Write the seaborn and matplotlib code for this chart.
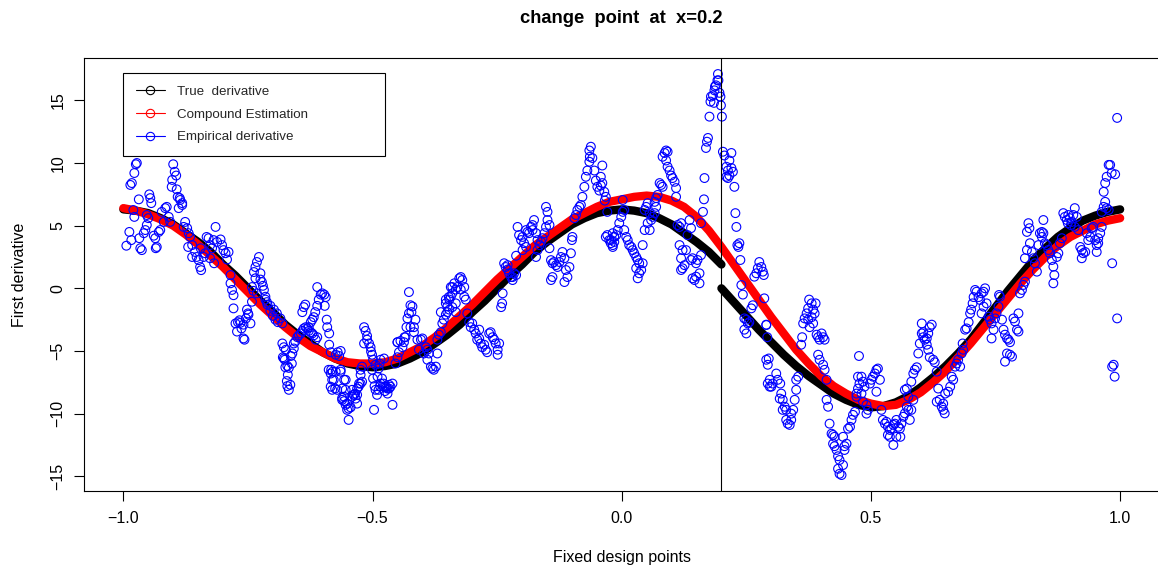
import sys
import pandas as pd
import matplotlib
matplotlib.use("Agg")
import matplotlib.pyplot as plt
import seaborn as sns
from matplotlib.lines import Line2D

sns.set_theme(style="ticks")
plt.rcParams['font.family'] = ['Liberation Sans', 'DejaVu Sans']
plt.rcParams['axes.unicode_minus'] = True

# ---------------- data ----------------
title_text = "change  point  at  x=0.2"
x_label = "Fixed design points"
y_label = "First derivative"
legend_labels = ["True  derivative", "Compound Estimation", "Empirical derivative"]
change_point = 0.2

xtick_vals = [-1.0, -0.5, 0.0, 0.5, 1.0]
xtick_labels = ["\u22121.0", "\u22120.5", "0.0", "0.5", "1.0"]
ytick_vals = [-15, -10, -5, 0, 5, 10, 15]
ytick_labels = ["\u221215", "\u221210", "\u22125", "0", "5", "10", "15"]

# true derivative, left of change point
true_left_x = [-1.0, -0.975, -0.95, -0.925, -0.9, -0.875, -0.85, -0.825, -0.8, -0.775,
               -0.75, -0.725, -0.7, -0.675, -0.65, -0.625, -0.6, -0.575, -0.55, -0.525,
               -0.5, -0.475, -0.45, -0.425, -0.4, -0.375, -0.35, -0.325, -0.3, -0.275,
               -0.25, -0.225, -0.2, -0.175, -0.15, -0.125, -0.1, -0.075, -0.05, -0.025,
               0.0, 0.025, 0.05, 0.075, 0.1, 0.125, 0.15, 0.175, 0.2]
true_left_y = [6.3, 6.2, 6.0, 5.6, 5.1, 4.4, 3.7, 2.9, 1.9, 1.0,
               0.0, -1.0, -1.9, -2.9, -3.7, -4.4, -5.1, -5.6, -6.0, -6.2,
               -6.3, -6.2, -6.0, -5.6, -5.1, -4.4, -3.7, -2.9, -1.9, -1.0,
               0.0, 1.0, 1.9, 2.9, 3.7, 4.4, 5.1, 5.6, 6.0, 6.2,
               6.3, 6.2, 6.0, 5.6, 5.1, 4.4, 3.7, 2.9, 1.9]
# true derivative, right of change point
true_right_x = [0.2, 0.225, 0.25, 0.275, 0.3, 0.325, 0.35, 0.375, 0.4, 0.425,
                0.45, 0.475, 0.5, 0.525, 0.55, 0.575, 0.6, 0.625, 0.65, 0.675,
                0.7, 0.725, 0.75, 0.775, 0.8, 0.825, 0.85, 0.875, 0.9, 0.925,
                0.95, 0.975, 1.0]
true_right_y = [0.0, -1.1, -2.2, -3.3, -4.3, -5.3, -6.2, -7.0, -7.7, -8.4,
                -8.9, -9.3, -9.5, -9.4, -9.1, -8.6, -7.9, -7.1, -6.2, -5.2,
                -4.1, -2.8, -1.5, -0.2, 1.0, 2.2, 3.2, 4.1, 4.8, 5.4,
                5.8, 6.1, 6.3]

# compound estimation
comp_x = [-1.0, -0.975, -0.95, -0.925, -0.9, -0.875, -0.85, -0.825, -0.8, -0.775,
          -0.75, -0.725, -0.7, -0.675, -0.65, -0.625, -0.6, -0.575, -0.55, -0.525,
          -0.5, -0.475, -0.45, -0.425, -0.4, -0.375, -0.35, -0.325, -0.3, -0.275,
          -0.25, -0.225, -0.2, -0.175, -0.15, -0.125, -0.1, -0.075, -0.05, -0.025,
          0.0, 0.025, 0.05, 0.075, 0.1, 0.125, 0.15, 0.175, 0.2, 0.225,
          0.25, 0.275, 0.3, 0.325, 0.35, 0.375, 0.4, 0.425, 0.45, 0.475,
          0.5, 0.525, 0.55, 0.575, 0.6, 0.625, 0.65, 0.675, 0.7, 0.725,
          0.75, 0.775, 0.8, 0.825, 0.85, 0.875, 0.9, 0.925, 0.95, 0.975, 1.0]
comp_y = [6.4, 6.2, 5.9, 5.5, 5.0, 4.3, 3.5, 2.6, 1.7, 0.7,
          -0.3, -1.3, -2.2, -3.1, -3.9, -4.6, -5.1, -5.6, -5.9, -6.0,
          -6.0, -5.9, -5.6, -5.1, -4.6, -3.9, -3.1, -2.2, -1.3, -0.3,
          0.7, 1.6, 2.5, 3.4, 4.1, 4.8, 5.5, 6.0, 6.5, 6.9,
          7.1, 7.3, 7.4, 7.3, 7.0, 6.5, 5.7, 4.6, 3.3, 1.9,
          0.5, -0.9, -2.3, -3.6, -4.9, -6.0, -7.0, -7.8, -8.4, -8.9,
          -9.2, -9.4, -9.3, -8.9, -8.3, -7.5, -6.6, -5.5, -4.4, -3.2,
          -2.0, -0.8, 0.4, 1.5, 2.5, 3.4, 4.1, 4.6, 5.1, 5.4, 5.6]

# empirical derivative (one line per cluster of points)
emp_x = [
    -0.973, -0.975, -0.978, -0.983, -0.986, -0.969, -0.980, -0.978, -0.953, -0.950, -0.988, -0.984, -0.994, -0.968, -0.966, -0.963, -0.959, -0.956, -0.953, -0.946, -0.944, -0.948,
    -0.939, -0.936, -0.933, -0.935, -0.929, -0.926, -0.923, -0.919, -0.916, -0.913, -0.909, -0.906,
    -0.900, -0.897, -0.894, -0.902, -0.903, -0.893, -0.891, -0.887, -0.886, -0.882, -0.889, -0.882,
    -0.876, -0.879, -0.872, -0.869, -0.866, -0.862, -0.870, -0.862, -0.856, -0.849, -0.846, -0.844, -0.853, -0.839, -0.833, -0.829, -0.826, -0.822, -0.819, -0.815, -0.812, -0.805, -0.802, -0.799, -0.795, -0.789, -0.792, -0.785, -0.782, -0.779, -0.779, -0.785, -0.845, -0.836, -0.826, -0.818,
    -0.775, -0.772, -0.767, -0.763, -0.759, -0.754, -0.750, -0.752, -0.745, -0.759, -0.757, -0.770, -0.765, -0.749, -0.742,
    -0.728, -0.732, -0.735, -0.738, -0.735, -0.725, -0.722, -0.742, -0.718, -0.715, -0.712, -0.705, -0.698, -0.692, -0.685, -0.681, -0.739, -0.732, -0.725, -0.720, -0.715, -0.711, -0.705, -0.700, -0.695, -0.690,
    -0.681, -0.678, -0.680, -0.676, -0.671, -0.668, -0.671, -0.668, -0.664, -0.661, -0.658, -0.658, -0.678, -0.675, -0.670, -0.665, -0.662, -0.674, -0.672,
    -0.655, -0.651, -0.648, -0.644, -0.641, -0.638, -0.634, -0.631, -0.628, -0.624, -0.621, -0.618, -0.614, -0.611, -0.641, -0.638, -0.635,
    -0.628, -0.624, -0.621, -0.618, -0.615, -0.611, -0.608, -0.604, -0.601, -0.597, -0.594, -0.596, -0.611, -0.592, -0.591, -0.587, -0.587, -0.584,
    -0.583, -0.580, -0.578, -0.575, -0.571, -0.574, -0.570, -0.567, -0.564, -0.564, -0.557, -0.554, -0.561, -0.557, -0.551, -0.548, -0.544, -0.548, -0.541, -0.537, -0.534, -0.531, -0.527, -0.524, -0.531, -0.588, -0.584, -0.581, -0.584, -0.581, -0.574, -0.564, -0.554, -0.561, -0.557, -0.561, -0.554, -0.551,
    -0.541, -0.538, -0.535, -0.531, -0.528, -0.524, -0.521, -0.521, -0.524,
    -0.517, -0.514, -0.511, -0.511, -0.507, -0.504, -0.503, -0.501, -0.499, -0.517, -0.501, -0.499, -0.496, -0.494, -0.491, -0.488, -0.485, -0.497, -0.490, -0.488, -0.486, -0.494,
    -0.484, -0.477, -0.478, -0.475, -0.472, -0.470, -0.467, -0.474, -0.470, -0.467, -0.464, -0.460, -0.460, -0.450, -0.484, -0.481, -0.477,
    -0.454, -0.450, -0.447, -0.450, -0.444, -0.440, -0.437, -0.436, -0.434, -0.432, -0.430, -0.427, -0.424, -0.422, -0.420, -0.427, -0.424, -0.417, -0.414, -0.417, -0.410, -0.407, -0.403, -0.400, -0.397, -0.393, -0.390, -0.387, -0.390, -0.383, -0.380, -0.377, -0.373, -0.370, -0.370, -0.367, -0.363, -0.360, -0.357, -0.353, -0.363, -0.353, -0.350, -0.347, -0.343,
    -0.353, -0.350, -0.346, -0.343, -0.340, -0.340, -0.336, -0.333, -0.330, -0.326, -0.323, -0.320, -0.316, -0.323, -0.316, -0.313, -0.333, -0.340, -0.333, -0.346,
    -0.310, -0.306, -0.303, -0.300, -0.296, -0.293, -0.290, -0.286, -0.283, -0.280, -0.276, -0.273, -0.270, -0.266, -0.263, -0.259, -0.256, -0.253, -0.249, -0.246, -0.249, -0.286,
    -0.242, -0.240, -0.239, -0.236, -0.233, -0.229, -0.226, -0.222, -0.219, -0.216, -0.212, -0.229, -0.219, -0.212,
    -0.209, -0.206, -0.202, -0.199, -0.196, -0.192, -0.189, -0.186, -0.182, -0.179, -0.176, -0.179, -0.172, -0.169, -0.165, -0.162, -0.159, -0.155, -0.152, -0.152, -0.149, -0.149, -0.145, -0.199, -0.192, -0.172, -0.169,
    -0.145, -0.142, -0.139, -0.136, -0.132, -0.129, -0.125, -0.122, -0.119, -0.115, -0.112, -0.109, -0.105, -0.139, -0.142, -0.102, -0.115, -0.099, -0.100,
    -0.095, -0.092, -0.089, -0.085, -0.082, -0.079, -0.075, -0.072, -0.069, -0.065, -0.064, -0.062, -0.065, -0.059, -0.055, -0.052, -0.049, -0.045, -0.042, -0.039, -0.035, -0.032, -0.039, -0.042, -0.029, -0.034,
    -0.032, -0.029, -0.025, -0.022, -0.018, -0.015, -0.018, -0.015, -0.011, -0.0215, -0.018, -0.015, -0.008, -0.005, -0.001, 0.002, 0.005, 0.002, 0.005, 0.009, 0.012, 0.015, 0.019, 0.022, 0.025, 0.029, 0.032, 0.035, 0.039, 0.035, 0.032, 0.042, 0.029, 0.042,
    0.046, 0.049, 0.052, 0.056, 0.059, 0.052, 0.046, 0.056, 0.062, 0.066, 0.069, 0.066, 0.072, 0.069,
    0.076, 0.079, 0.082, 0.082, 0.086, 0.089, 0.092, 0.089, 0.092, 0.096, 0.099, 0.102, 0.106, 0.109, 0.109,
    0.112, 0.116, 0.119, 0.116, 0.119, 0.122, 0.119, 0.126, 0.122, 0.129, 0.132, 0.136, 0.139, 0.142, 0.142, 0.146, 0.149, 0.152, 0.156, 0.149, 0.156, 0.159, 0.139,
    0.159, 0.163, 0.165, 0.166, 0.169, 0.171, 0.173, 0.176, 0.178, 0.179, 0.183, 0.185, 0.186, 0.187, 0.189, 0.192, 0.193, 0.194, 0.196, 0.198, 0.199, 0.201,
    0.203, 0.206, 0.210, 0.213, 0.210, 0.213, 0.216, 0.220, 0.216, 0.220, 0.223, 0.226, 0.228, 0.230, 0.232, 0.234, 0.236, 0.238,
    0.240, 0.243, 0.246, 0.250, 0.253, 0.256, 0.260, 0.263, 0.266, 0.270, 0.273, 0.276, 0.280, 0.283, 0.285, 0.286, 0.290, 0.292, 0.295, 0.246, 0.250, 0.290, 0.290, 0.293, 0.297, 0.300, 0.303, 0.297, 0.293,
    0.310, 0.313, 0.318, 0.320, 0.323, 0.317, 0.327, 0.323, 0.330, 0.333, 0.337, 0.340, 0.344, 0.347, 0.340, 0.350, 0.330, 0.350, 0.354, 0.360, 0.362,
    0.364, 0.367, 0.371, 0.374, 0.376, 0.381, 0.384, 0.387, 0.389, 0.381, 0.384, 0.377, 0.374, 0.391, 0.394, 0.397, 0.401, 0.404, 0.407, 0.394, 0.397, 0.404, 0.407, 0.411,
    0.411, 0.414, 0.417, 0.421, 0.424, 0.427, 0.424, 0.427, 0.431, 0.434, 0.437, 0.434, 0.437, 0.441, 0.444, 0.447, 0.451, 0.447, 0.444,
    0.454, 0.458, 0.461, 0.464, 0.468, 0.471, 0.474, 0.477, 0.481, 0.484, 0.487, 0.491, 0.494, 0.491, 0.498, 0.501, 0.504, 0.508, 0.511, 0.514, 0.518, 0.511, 0.474, 0.476, 0.471, 0.481, 0.484,
    0.521, 0.524, 0.528, 0.531, 0.534, 0.538, 0.541, 0.545, 0.548, 0.551, 0.555, 0.558, 0.561, 0.565, 0.568, 0.572, 0.575, 0.578, 0.581, 0.585, 0.534, 0.538, 0.545, 0.551, 0.559,
    0.568, 0.572, 0.575, 0.581, 0.585, 0.588, 0.592, 0.595, 0.598, 0.602, 0.605, 0.602, 0.605, 0.608, 0.612, 0.615, 0.618, 0.622, 0.612, 0.615, 0.618, 0.625, 0.628, 0.632, 0.635,
    0.632, 0.638, 0.642, 0.645, 0.648, 0.645,
    0.649, 0.655, 0.659, 0.662, 0.665, 0.669, 0.672, 0.675, 0.679, 0.682, 0.685, 0.684,
    0.689, 0.692, 0.696, 0.699, 0.701, 0.704, 0.706, 0.709, 0.712, 0.716, 0.719, 0.722, 0.726, 0.729, 0.722, 0.726, 0.732, 0.736, 0.739, 0.742, 0.746, 0.742, 0.749, 0.752, 0.756, 0.759, 0.757, 0.763, 0.766, 0.769, 0.773, 0.776, 0.779, 0.773, 0.779, 0.783, 0.769, 0.786, 0.789, 0.793, 0.796, 0.796,
    0.803, 0.806, 0.809, 0.799,
    0.809, 0.813, 0.816, 0.818, 0.813, 0.819, 0.823, 0.826, 0.829, 0.833, 0.836, 0.839, 0.843, 0.846, 0.846, 0.843, 0.849, 0.853, 0.856, 0.859, 0.863, 0.866, 0.868, 0.866, 0.873, 0.876, 0.879, 0.883, 0.886, 0.889, 0.893, 0.896, 0.899, 0.903, 0.906, 0.909, 0.913, 0.901, 0.895,
    0.909, 0.916, 0.920, 0.923, 0.926, 0.930, 0.923, 0.933, 0.936, 0.940, 0.943, 0.946, 0.950, 0.953, 0.956, 0.953, 0.956, 0.960, 0.963,
    0.967, 0.970, 0.973, 0.977, 0.980, 0.983, 0.990, 0.970, 0.973, 0.977, 0.967, 0.963, 0.994, 0.984, 0.994, 0.984, 0.987, 0.989,
]
emp_y = [
    10.0, 9.9, 9.2, 8.4, 8.25, 7.1, 6.25, 5.7, 5.85, 5.6, 4.5, 3.85, 3.4, 4.0, 3.2, 3.05, 4.4, 4.65, 5.05, 7.2, 6.8, 7.5,
    4.2, 4.0, 3.3, 3.2, 4.5, 4.65, 6.1, 5.3, 6.4, 6.5, 5.7, 5.3,
    9.9, 9.3, 9.0, 8.65, 8.1, 7.9, 7.3, 7.2, 7.05, 6.8, 6.4, 6.65,
    5.3, 4.9, 4.8, 4.4, 4.1, 3.45, 3.3, 2.5, 2.9, 2.25, 1.7, 1.45, 2.5, 2.5, 4.1, 4.0, 3.45, 3.2, 3.85, 4.9, 3.7, 3.9, 3.45, 3.05, 2.8, 2.9, 2.3, 1.06, -0.13, -0.55, -1.6, 0.4, 3.2, 2.8, 2.4, 2.0,
    -2.8, -3.45, -2.55, -3.2, -2.9, -2.4, -2.0, -1.7, -2.8, -4.0, -4.1, -2.7, -2.75, -2.1, -1.07,
    2.5, 2.1, 1.7, 1.3, 0.8, 1.2, 0.5, 0.1, -0.13, -0.67, -1.1, -1.4, -1.7, -2.0, -2.4, -2.8, -0.2, -0.4, 0.7, 0.2, -0.9, -1.3, -1.8, -2.2, -2.5, -2.7,
    -4.4, -4.7, -5.5, -5.7, -6.2, -6.35, -7.8, -8.1, -5.4, -5.2, -4.8, -4.4, -5.6, -6.3, -6.9, -7.7, -6.0, -4.9, -7.4,
    -4.25, -3.9, -3.75, -3.6, -3.4, -3.2, -3.1, -3.2, -3.4, -3.5, -3.6, -3.75, -4.1, -3.9, -1.9, -1.5, -1.3,
    -3.1, -2.7, -2.5, -2.3, -1.9, -1.4, -0.9, -0.5, -0.4, -0.5, -0.7, -1.4, 0.1, -2.5, -3.1, -3.6, -4.5, -5.1,
    -6.5, -6.65, -7.3, -8.0, -8.1, -5.3, -5.1, -5.4, -5.0, -6.5, -7.3, -8.1, -8.75, -9.0, -9.2, -9.6, -9.5, -10.5, -8.1, -8.5, -8.8, -8.0, -7.6, -6.9, -9.2, -6.5, -6.8, -7.3, -7.85, -8.1, -6.65, -6.65, -7.3, -8.0, -8.65, -8.9, -9.3, -9.7,
    -8.65, -8.5, -8.4, -8.5, -7.85, -7.6, -7.45, -6.25, -6.5,
    -3.1, -3.4, -3.8, -4.1, -4.4, -4.7, -5.05, -5.3, -5.7, -4.4, -6.5, -7.2, -7.8, -8.1, -8.5, -8.1, -7.8, -9.7, -7.05, -6.4, -6.0, -6.1,
    -5.7, -5.6, -7.6, -8.2, -7.9, -8.4, -8.0, -7.85, -8.0, -7.7, -7.85, -7.6, -9.3, -4.3, -7.6, -7.2, -7.85,
    -6.0, -5.5, -5.1, -4.3, -4.2, -4.7, -4.3, -3.9, -3.9, -3.1, -2.4, -2.0, -1.35, -1.9, -1.45, -0.3, -3.1, -3.1, -2.5, -3.5, -4.1, -4.9, -4.1, -4.0, -5.2, -4.7, -4.9, -5.2, -5.7, -6.25, -6.4, -6.5, -6.25, -5.2, -4.1, -3.7, -3.5, -2.8, -2.5, -2.1, -1.9, -0.9, -1.45, -0.7, 0.1,
    -1.2, -1.9, -0.9, -0.67, -0.4, 0.1, 0.4, -0.1, 0.1, 0.8, 0.9, 0.66, 0.1, -0.1, -0.67, -0.9, -1.2, -1.5, -1.9, -1.7,
    -2.0, -2.7, -3.1, -2.8, -3.3, -3.6, -4.1, -4.0, -4.4, -4.7, -4.5, -4.9, -5.1, -3.6, -3.5, -3.9, -4.1, -4.4, -4.9, -4.4, -5.3, -3.3,
    -1.5, -1.2, -0.4, 2.0, 1.7, 1.5, 1.2, 0.9, 0.66, 1.2, 1.06, 1.85, 0.9, 2.6,
    4.9, 4.25, 3.85, 4.1, 3.6, 4.65, 4.5, 4.4, 4.9, 4.65, 5.45, 5.05, 4.4, 3.85, 3.45, 3.7, 4.0, 4.4, 4.9, 6.5, 6.1, 5.45, 5.05, 3.05, 3.3, 2.5, 3.05,
    3.2, 2.25, 2.0, 2.1, 1.85, 1.7, 2.1, 2.5, 2.9, 2.4, 1.46, 0.9, 1.7, 0.9, 0.66, 2.8, 0.5, 4.1, 3.85,
    5.6, 5.85, 6.25, 6.5, 6.65, 7.3, 8.1, 8.9, 9.4, 10.1, 10.5, 11.3, 11.0, 10.4, 9.4, 8.6, 8.1, 7.8, 8.2, 8.4, 7.7, 7.3, 9.8, 8.9, 6.1, 7.0,
    4.1, 4.25, 3.85, 3.6, 3.3, 4.1, 4.4, 4.1, 4.25, 3.85, 3.45, 3.7, 4.65, 5.2, 5.7, 6.1, 6.25, 7.05, 4.65, 4.1, 3.85, 3.45, 3.3, 3.05, 2.8, 2.5, 2.26, 2.0, 1.46, 1.2, 0.8, 2.0, 1.6, 3.45,
    6.25, 6.5, 6.8, 6.0, 5.45, 5.2, 4.65, 4.65, 5.7, 6.0, 6.5, 6.9, 7.45, 7.2,
    8.4, 8.25, 8.1, 10.5, 10.8, 11.0, 10.9, 10.2, 9.7, 9.4, 9.0, 8.8, 8.5, 8.0, 7.3,
    5.05, 4.9, 5.2, 3.45, 2.4, 1.6, 1.46, 1.85, 3.05, 3.05, 4.25, 5.45, 4.8, 2.4, 0.8, 0.66, 0.93, 2.26, 0.4, 2.0, 1.2, 2.65, 2.26,
    5.2, 6.1, 7.1, 8.8, 11.2, 11.7, 12.0, 13.7, 14.9, 15.3, 15.4, 14.8, 15.8, 16.1, 16.2, 16.6, 17.1, 16.6, 15.6, 15.3, 14.6, 13.7,
    10.9, 10.6, 9.7, 9.4, 8.9, 8.8, 9.0, 9.6, 10.2, 10.8, 9.3, 8.1, 6.0, 4.9, 3.45, 3.3, 3.6, 2.26,
    0.26, -0.5, -2.4, -2.5, -2.8, -2.7, -1.6, -1.35, 0.93, 1.2, 1.6, 2.1, 1.7, 1.33, 1.06, -0.8, -2.9, -3.9, -5.6, -3.3, -3.6, -2.93, -5.7, -6.1, -7.3, -7.85, -7.6, -7.85, -7.6,
    -6.8, -7.3, -7.6, -8.4, -8.9, -8.8, -9.45, -9.7, -9.7, -10.8, -10.9, -10.5, -9.7, -8.9, -10.0, -8.1, -10.5, -7.3, -7.05, -4.5, -3.9,
    -2.8, -2.4, -2.0, -1.6, -0.9, -1.2, -1.7, -2.0, -1.2, -2.3, -2.8, -3.1, -2.5, -3.7, -3.9, -4.1, -3.6, -3.9, -4.1, -5.3, -5.7, -6.1, -6.5, -7.3,
    -8.9, -9.45, -10.8, -11.6, -11.7, -11.85, -12.4, -12.6, -12.9, -13.4, -13.7, -14.4, -14.8, -14.9, -14.1, -12.9, -12.4, -12.6, -11.85,
    -11.2, -11.05, -10.5, -10.1, -9.85, -8.4, -8.0, -7.6, -7.05, -7.45, -7.85, -10.0, -9.7, -9.3, -7.6, -7.3, -7.05, -6.8, -6.5, -6.4, -7.3, -8.25, -7.05, -5.4, -8.65, -8.4, -9.05,
    -9.7, -10.5, -10.8, -10.65, -11.05, -11.3, -11.2, -10.9, -10.8, -10.5, -11.05, -11.2, -10.8, -10.25, -9.98, -9.45, -9.7, -10.5, -9.7, -8.9, -11.7, -11.85, -12.5, -11.85, -11.85,
    -8.1, -8.0, -8.65, -7.45, -6.8, -6.5, -6.3, -5.2, -4.4, -3.6, -3.5, -2.8, -3.9, -4.1, -4.0, -3.6, -3.1, -2.9, -4.5, -4.9, -5.5, -5.7, -5.9, -6.65, -8.0,
    -9.05, -8.9, -9.45, -9.7, -9.98, -9.2,
    -8.4, -8.25, -7.85, -7.05, -7.3, -6.25, -6.0, -5.7, -6.25, -5.2, -4.9, -4.4,
    -3.3, -3.2, -2.7, -2.0, -1.7, -1.2, -0.7, -0.13, -0.27, -0.7, -0.93, -0.4, -0.27, 0.0, -2.0, -1.46, -1.2, -2.26, -2.5, -2.8, -3.3, -4.0, -2.4, -2.0, -1.46, -0.67, -0.53, -2.5, -3.3, -3.7, -4.0, -4.1, -4.3, -5.2, -5.3, -5.45, -5.85, -2.4, -2.65, -3.3, -3.45, -2.0,
    -0.13, 0.27, 0.53, -0.4,
    2.4, 3.06, 5.2, 4.8, 4.5, 3.6, 2.9, 2.4, 2.0, 1.33, 3.45, 4.4, 4.5, 5.45, 4.4, 4.1, 3.6, 3.45, 3.06, 2.8, 2.26, 1.73, 1.06, 0.4, 2.5, 2.8, 3.6, 4.0, 6.0, 5.7, 5.45, 5.85, 5.6, 5.3, 5.85, 6.4, 5.7, 5.05, 5.2,
    4.9, 4.65, 3.3, 3.06, 2.8, 2.9, 2.4, 4.4, 3.85, 4.1, 4.8, 4.9, 3.85, 3.45, 3.6, 2.9, 4.0, 4.4, 4.9,
    7.7, 8.4, 8.9, 9.85, 9.85, 9.2, 9.1, 6.9, 6.4, 6.25, 6.5, 6.1, 13.6, 2.0, -2.4, -6.25, -6.1, -7.05,
]

# ---------------- figure ----------------
W, H = 1158, 571
fig = plt.figure(figsize=(W / 100, H / 100), dpi=100)
ax_l, ax_r, ax_t, ax_b = 83.5, 1160.0, 58.0, 490.7
ax = fig.add_axes([ax_l / W, (H - ax_b) / H, (ax_r - ax_l) / W, (ax_b - ax_t) / H])

if len(emp_x) != len(emp_y):
    print("length mismatch", len(emp_x), len(emp_y), file=sys.stderr)
n = min(len(emp_x), len(emp_y))
df_true_l = pd.DataFrame({"x": true_left_x, "y": true_left_y})
df_true_r = pd.DataFrame({"x": true_right_x, "y": true_right_y})
df_comp = pd.DataFrame({"x": comp_x, "y": comp_y})
df_emp = pd.DataFrame({"x": emp_x[:n], "y": emp_y[:n]})

curve_lw = 6.0
for d in (df_true_l, df_true_r):
    sns.lineplot(data=d, x="x", y="y", color="black", linewidth=curve_lw, estimator=None,
                 sort=False, ax=ax, solid_capstyle="round", solid_joinstyle="round", zorder=2)
sns.lineplot(data=df_comp, x="x", y="y", color="red", linewidth=curve_lw, estimator=None,
             sort=False, ax=ax, solid_capstyle="round", solid_joinstyle="round", zorder=3)
sns.scatterplot(data=df_emp, x="x", y="y", marker="o", s=40, color="blue",
                facecolor="none", edgecolor="blue", linewidth=0.8, ax=ax, zorder=4)

ax.axvline(change_point, color="black", linewidth=0.8, zorder=5)

ax.set_xlim(-1.08, 1.08)
ax.set_ylim(-16.15, 18.38)
ax.set_xticks(xtick_vals)
ax.set_xticklabels(xtick_labels)
ax.set_yticks(ytick_vals)
ax.set_yticklabels(ytick_labels)
ax.grid(False)
ax.set_facecolor("white")
for sp in ax.spines.values():
    sp.set_visible(True)
    sp.set_color("black")
    sp.set_linewidth(0.8)

ax.tick_params(axis="both", direction="out", length=7.2, width=0.8, color="black",
               labelcolor="black", labelsize=11.5)
ax.tick_params(axis="x", pad=7.6)
ax.tick_params(axis="y", pad=5.8, labelrotation=90)
for lab in ax.get_yticklabels():
    lab.set_va("center")

ax.set_xlabel(x_label, fontsize=11.5, color="black", va="center")
ax.xaxis.set_label_coords(0.5, (ax_b - 557.5) / (ax_b - ax_t))
ax.set_ylabel(y_label, fontsize=11.5, color="black", va="center")
ax.yaxis.set_label_coords((19.2 - ax_l) / (ax_r - ax_l), 0.5)
ax.set_title(title_text, fontsize=13.2, fontweight="bold", color="black",
             y=(ax_b - 18.5) / (ax_b - ax_t), va="center", pad=0)

handles = [
    Line2D([0], [0], color="black", lw=0.8, marker="o", mfc="none", mec="black", ms=6, mew=0.8),
    Line2D([0], [0], color="red", lw=0.8, marker="o", mfc="none", mec="red", ms=6, mew=0.8),
    Line2D([0], [0], color="blue", lw=0.8, marker="o", mfc="none", mec="blue", ms=6, mew=0.8),
]
lx0 = (123 - ax_l) / (ax_r - ax_l)
ly1 = (ax_b - 73) / (ax_b - ax_t)
lw_ = (385 - 123) / (ax_r - ax_l)
leg = ax.legend(handles, legend_labels, loc="upper left",
                bbox_to_anchor=(lx0, ly1 - 0.3, lw_, 0.3), mode="expand",
                borderaxespad=0, fontsize=9.6, frameon=True, fancybox=False,
                shadow=False, framealpha=1, edgecolor="black", borderpad=0.95,
                labelspacing=0.78, handlelength=2.2, handletextpad=0.9, numpoints=1)
leg.get_frame().set_linewidth(0.8)
leg.set_zorder(10)

fig.savefig("out.png", dpi=100)
